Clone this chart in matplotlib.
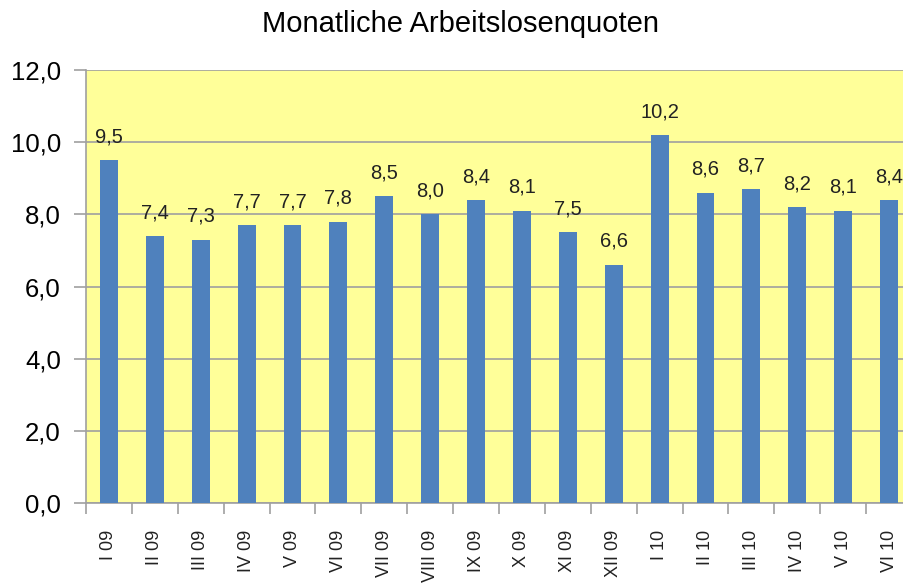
import matplotlib
matplotlib.use("Agg")
import matplotlib.pyplot as plt
import numpy as np

plt.rcParams['font.family'] = ['Liberation Sans', 'DejaVu Sans']

categories = ["I 09", "II 09", "III 09", "IV 09", "V 09", "VI 09", "VII 09", "VIII 09",
              "IX 09", "X 09", "XI 09", "XII 09", "I 10", "II 10", "III 10", "IV 10",
              "V 10", "VI 10"]
values = [9.5, 7.4, 7.3, 7.7, 7.7, 7.8, 8.5, 8.0, 8.4, 8.1, 7.5, 6.6, 10.2, 8.6, 8.7,
          8.2, 8.1, 8.4]
yticks = [0, 2, 4, 6, 8, 10, 12]

fig = plt.figure(figsize=(9.04, 5.86), dpi=100)
ax = fig.add_axes([86/904, 83/586, 826/904, 433/586])
ax.set_facecolor('#FFFF99')

x = np.arange(len(categories))
ax.bar(x, values, width=0.39, color='#4F81BD', zorder=3)

for xi, v in zip(x, values):
    ax.annotate(f"{v:.1f}".replace('.', ','), (xi, v), xytext=(0, 10),
                textcoords='offset points', ha='center', va='bottom',
                fontsize=14.5, color='#222222', zorder=4)

ax.set_xlim(-0.5, len(categories) - 0.5)
ax.set_ylim(0, 12)
ax.set_yticks(yticks)
ax.set_yticklabels([f"{t:.1f}".replace('.', ',') for t in yticks], fontsize=18.5)
ax.yaxis.grid(True, color='#A0A0A0', linewidth=1.2, zorder=1)

ax.set_xticks(x)
ax.set_xticklabels(categories, rotation=90, fontsize=13, va='top', color='#222222')
ax.set_xticks(np.arange(len(categories) + 1) - 0.5, minor=True)
ax.tick_params(axis='x', which='major', length=0, pad=19)
ax.tick_params(axis='x', which='minor', length=8, color='#A0A0A0', width=1.2, direction='out')
ax.tick_params(axis='y', length=9, color='#A0A0A0', width=1.2, direction='out', pad=9)

for s in ['top', 'right']:
    ax.spines[s].set_visible(False)
for s in ['left', 'bottom']:
    ax.spines[s].set_color('#A0A0A0')
    ax.spines[s].set_linewidth(1.2)

fig.text(461/904, 1 - 24/586, "Monatliche Arbeitslosenquoten", ha='center', va='center',
         fontsize=21)

fig.savefig("out.png", dpi=100)
